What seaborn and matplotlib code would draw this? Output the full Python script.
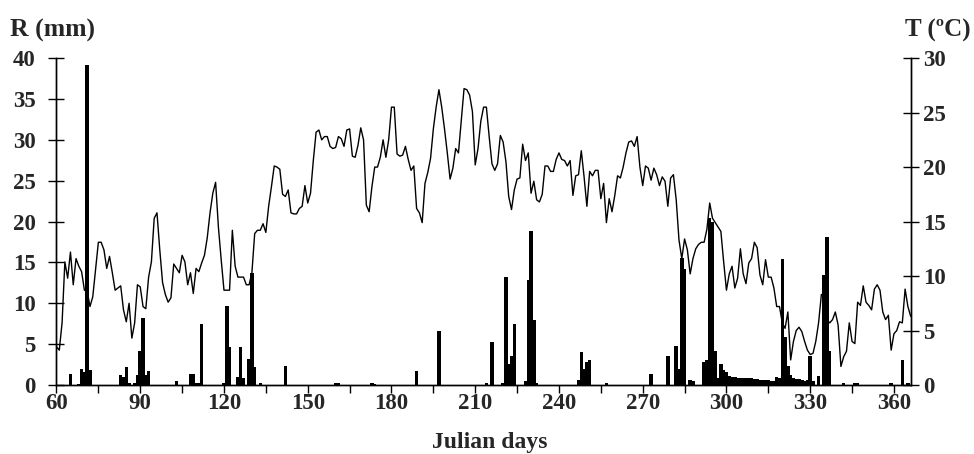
import seaborn as sns
import matplotlib.pyplot as plt
from matplotlib.ticker import MultipleLocator

# Temperatura diaria (ºC), dias julianos 60 a 366
dias_temp = list(range(60, 367))
temperatura = [
    3.5, 3.2, 5.7, 11.3, 9.8, 12.2, 9.2, 11.6, 10.9, 10.4,
    8.7, 8.6, 7.2, 8.1, 10.6, 13.1, 13.1, 12.4, 10.7, 11.8,
    10.3, 8.7, 8.9, 9.1, 6.9, 5.8, 7.5, 4.3, 5.7, 9.2,
    9.0, 7.2, 7.0, 9.9, 11.3, 15.3, 15.8, 12.4, 9.4, 8.3,
    7.6, 8.0, 11.1, 10.7, 10.3, 11.9, 11.3, 9.2, 10.3, 8.4,
    10.7, 10.4, 11.2, 11.9, 13.5, 15.8, 17.6, 18.6, 14.5, 11.5,
    8.7, 8.7, 8.7, 14.2, 10.9, 9.9, 9.9, 9.9, 9.2, 9.2,
    10.3, 13.9, 14.2, 14.2, 14.8, 14.0, 16.4, 18.2, 20.1, 20.0,
    19.8, 17.5, 17.3, 17.9, 15.8, 15.7, 15.7, 16.2, 16.4, 18.3,
    16.7, 17.6, 20.6, 23.2, 23.4, 22.5, 22.8, 22.8, 21.9, 21.7,
    21.8, 22.8, 22.6, 21.9, 23.4, 23.5, 21.0, 20.9, 22.0, 23.6,
    22.5, 16.5, 15.9, 18.2, 20.0, 20.0, 20.9, 22.5, 20.9, 22.5,
    25.5, 25.5, 21.2, 21.0, 21.1, 21.9, 20.7, 19.7, 20.1, 16.2,
    15.8, 14.9, 18.5, 19.5, 20.8, 23.5, 25.5, 27.1, 25.5, 23.5,
    21.3, 18.9, 19.9, 21.7, 21.3, 24.3, 27.2, 27.1, 26.6, 25.1,
    20.2, 21.7, 24.2, 25.5, 25.5, 22.8, 20.3, 19.7, 20.3, 22.9,
    22.3, 20.5, 17.3, 16.1, 17.9, 18.9, 19.0, 22.1, 20.6, 21.3,
    17.6, 18.7, 17.0, 16.8, 17.5, 20.1, 20.1, 19.6, 19.6, 20.7,
    21.3, 20.7, 20.6, 20.1, 20.6, 17.4, 19.2, 19.3, 21.5, 19.1,
    16.4, 19.6, 19.2, 19.7, 19.7, 17.1, 18.5, 14.9, 17.1, 15.9,
    17.4, 19.2, 19.0, 20.0, 21.3, 22.3, 22.4, 21.9, 22.8, 20.0,
    18.3, 20.1, 19.9, 18.8, 19.9, 19.3, 18.3, 19.1, 18.7, 16.4,
    19.0, 19.3, 17.0, 13.3, 11.6, 13.4, 12.4, 10.2, 11.6, 12.5,
    12.9, 13.1, 13.1, 14.3, 16.7, 15.3, 14.9, 14.5, 14.1, 11.3,
    8.7, 10.2, 10.9, 8.9, 9.8, 12.5, 10.2, 9.3, 11.2, 11.6,
    13.1, 12.6, 10.1, 9.2, 11.5, 9.9, 9.9, 8.9, 7.2, 7.2,
    5.7, 5.2, 6.7, 2.3, 4.0, 5.0, 5.3, 4.9, 4.0, 3.2,
    2.8, 2.9, 4.0, 5.7, 8.3, 8.3, 6.0, 5.7, 6.0, 6.7,
    5.5, 1.7, 2.6, 3.1, 5.7, 4.0, 3.8, 7.6, 7.3, 9.1,
    7.6, 7.3, 6.9, 8.8, 9.2, 8.7, 6.7, 6.0, 6.4, 3.2,
    4.7, 5.0, 5.8, 5.7, 8.8, 7.2, 6.3,
]

# Chuva (mm), so os dias com chuva
dias_chuva = [
    65, 68, 69, 70, 71, 72, 83, 84, 85, 86, 88, 89, 90, 91, 92, 93,
    103, 108, 109, 110, 111, 112, 120, 121, 122, 125, 126, 127, 129, 130, 131, 133,
    142, 160, 161, 173, 174, 189, 197,
    214, 216, 220, 221, 222, 223, 224, 228, 229, 230, 231, 232,
    247, 248, 249, 250, 251, 257, 273, 279, 282, 283, 284, 285, 287, 288,
    292, 293, 294, 295, 296, 297, 298, 299, 300, 301, 302, 303, 304, 305,
    306, 307, 308, 309, 310, 311, 312, 313, 314, 315, 316, 317, 318, 319,
    320, 321, 322, 323, 324, 325, 326, 327, 328, 329, 330, 331, 333,
    335, 336, 337, 342, 346, 347, 359, 363, 365,
]
chuva = [
    1.3, 0.1, 2.0, 1.6, 39.1, 1.8, 1.2, 1.0, 2.2, 0.2, 0.2, 1.2, 4.2, 8.2, 1.2, 1.7,
    0.5, 1.4, 1.4, 0.2, 0.3, 7.5, 0.2, 9.7, 4.6, 1.0, 4.7, 0.9, 3.2, 13.7, 2.2, 0.3,
    2.3, 0.2, 0.2, 0.2, 0.1, 1.7, 6.6,
    0.3, 5.2, 0.2, 13.2, 2.6, 3.5, 7.5, 0.5, 12.8, 18.8, 7.9, 0.2,
    0.6, 4.0, 2.0, 2.8, 3.1, 0.3, 1.3, 3.5, 4.8, 1.9, 15.6, 14.2, 0.6, 0.5,
    2.8, 3.0, 20.4, 19.9, 4.2, 0.8, 2.6, 1.8, 1.6, 1.1, 1.0, 0.95, 0.9, 0.9,
    0.8, 0.8, 0.9, 0.8, 0.7, 0.7, 0.6, 0.6, 0.6, 0.6, 0.5, 0.5, 1.0, 0.8,
    15.4, 5.9, 2.3, 1.2, 0.8, 0.7, 0.7, 0.6, 0.5, 0.6, 3.5, 0.5, 1.1,
    13.5, 18.1, 4.2, 0.2, 0.3, 0.3, 0.3, 3.0, 0.2,
]

sns.set_style('white')
plt.rcParams['font.family'] = ['Liberation Serif', 'DejaVu Serif']
plt.rcParams['font.weight'] = 'bold'

fig = plt.figure(figsize=(9.74, 4.54), dpi=100)
ax = fig.add_axes([0.058, 0.152, 0.877, 0.72])

# Barras de chuva
sns.barplot(x=dias_chuva, y=chuva, native_scale=True, color='black', saturation=1,
            width=1.25, errorbar=None, linewidth=0, ax=ax)

# Linha de temperatura no eixo da direita
ax2 = ax.twinx()
sns.lineplot(x=dias_temp, y=temperatura, color='black', linewidth=1.0, ax=ax2)

ax.set_xlim(60, 366)
ax.set_ylim(0, 40)
ax2.set_ylim(0, 30)

ax.xaxis.set_major_locator(MultipleLocator(30))
ax.xaxis.set_minor_locator(MultipleLocator(15))
ax.yaxis.set_major_locator(MultipleLocator(5))
ax2.yaxis.set_major_locator(MultipleLocator(5))

ax.tick_params(axis='x', which='both', direction='out', length=6, width=1, color='black',
               labelsize=16.5, pad=0, bottom=True)
ax.tick_params(axis='y', direction='inout', length=12, width=1, color='black', labelsize=16.5,
               left=True, pad=9)
ax2.tick_params(axis='y', direction='inout', length=12, width=1, color='black', labelsize=16.5,
                right=True, pad=3)

for eixo in (ax, ax2):
    eixo.spines['top'].set_visible(False)
    for lado in ('left', 'right', 'bottom'):
        eixo.spines[lado].set_color('black')
        eixo.spines[lado].set_linewidth(1)
    eixo.set_ylabel('')

ax.set_xlabel('')
fig.text(0.503, 0.026, 'Julian days', fontsize=17, fontweight='bold', ha='center', va='center')
fig.text(0.010, 0.934, 'R (mm)', fontsize=18.5, fontweight='bold', ha='left', va='center')
fig.text(0.997, 0.934, 'T (ºC)', fontsize=18, fontweight='bold', ha='right', va='center')

fig.savefig('out.png', dpi=100)
